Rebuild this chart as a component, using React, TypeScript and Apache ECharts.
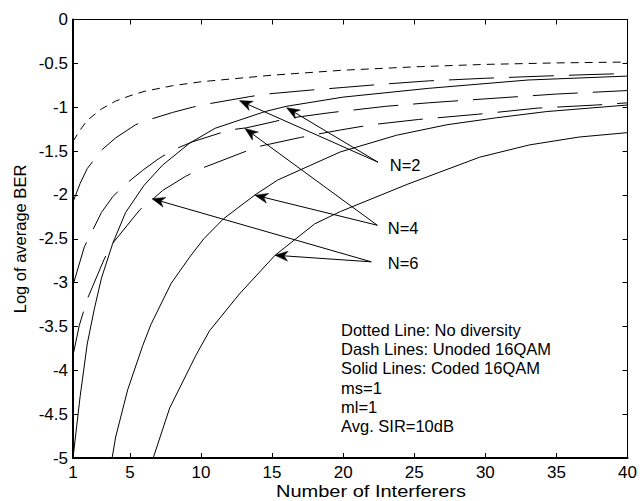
import React, { useEffect, useRef } from "react";
import * as echarts from "echarts";

// ---- axis ticks ----
const X_TICK_LABELS = [1, 5, 10, 15, 20, 25, 30, 35, 40];
const X_INNER_TICKS = [5, 10, 15, 20, 25, 30, 35];

// ---- Dotted: no diversity ----
const NODIV_X = [1, 1.5, 2, 3, 4, 5, 6, 8, 10, 15, 20, 25, 30, 35, 40];
const NODIV_Y = [-1.39, -1.26, -1.15, -1.02, -0.93, -0.87, -0.82, -0.755, -0.71, -0.635, -0.578, -0.54, -0.512, -0.495, -0.485];

// ---- Dash lines: uncoded 16QAM ----
const UNC2_X = [1, 1.5, 2, 3, 4, 5.4, 6.4, 8, 9.4, 10.4, 13.4, 14.6, 17.7, 20, 23, 26, 30, 35, 40];
const UNC2_Y = [-2.08, -1.87, -1.7, -1.49, -1.35, -1.2, -1.14, -1.06, -1.0, -0.965, -0.88, -0.85, -0.805, -0.775, -0.735, -0.7, -0.67, -0.64, -0.615];

const UNC4_X = [1, 1.8, 2.3, 3, 3.8, 4.6, 5.9, 7, 8, 9.4, 12, 13.2, 15, 16, 19.2, 23, 26, 30, 35, 40];
const UNC4_Y = [-3.03, -2.59, -2.43, -2.2, -2.02, -1.89, -1.72, -1.59, -1.49, -1.395, -1.26, -1.235, -1.17, -1.13, -1.06, -0.99, -0.95, -0.905, -0.85, -0.81];

const UNC6_X = [1, 1.44, 2, 3.2, 3.8, 5.7, 6.6, 7.3, 8.9, 10, 14, 17, 18.1, 19.8, 22, 25.3, 29.5, 33.7, 37.8, 40];
const UNC6_Y = [-3.83, -3.49, -3.19, -2.73, -2.55, -2.17, -2.05, -1.95, -1.79, -1.7, -1.45, -1.345, -1.31, -1.26, -1.2, -1.14, -1.08, -1.01, -0.975, -0.95];

// ---- Solid lines: coded 16QAM ----
const COD2_X = [1, 1.5, 2, 2.5, 3, 3.8, 4.7, 6, 7.3, 9.2, 11, 14.5, 16, 20, 26, 33, 40];
const COD2_Y = [-5, -4.3, -3.7, -3.3, -2.95, -2.55, -2.2, -1.89, -1.66, -1.41, -1.24, -1.05, -0.99, -0.885, -0.785, -0.69, -0.645];

const COD4_X = [3.75, 4, 4.85, 5.9, 6.5, 7.9, 9.2, 10.2, 11.6, 13.8, 15.4, 19.8, 23.75, 27.3, 30.8, 34.3, 40];
const COD4_Y = [-5, -4.76, -4.22, -3.72, -3.47, -3.01, -2.71, -2.5, -2.27, -2.0, -1.83, -1.51, -1.32, -1.2, -1.12, -1.05, -0.975];

const COD6_X = [6.64, 7.8, 9.64, 10.6, 12.7, 15.2, 18, 19.8, 24.5, 26.8, 29.6, 33.1, 36.6, 40];
const COD6_Y = [-5, -4.43, -3.83, -3.55, -3.13, -2.69, -2.33, -2.19, -1.88, -1.74, -1.57, -1.43, -1.34, -1.29];

// ---- texts ----
const NOTE_LINES = [
  "Dotted Line: No diversity",
  "Dash Lines: Unoded 16QAM",
  "Solid Lines: Coded 16QAM",
  "ms=1",
  "ml=1",
  "Avg. SIR=10dB",
];
const X_NAME = "Number of Interferers";
const Y_NAME = "Log of average BER";

// arrow annotations (data coordinates: tail -> tip)
const ARROWS = [
  { label: "N=2", labelAt: [23.28, -1.66], tail: [22.45, -1.627], tips: [[12.7, -0.925], [16.02, -1.005]] },
  { label: "N=4", labelAt: [23.14, -2.374], tail: [22.4, -2.346], tips: [[13.09, -1.242], [13.79, -2.003]] },
  { label: "N=6", labelAt: [23.14, -2.78], tail: [21.98, -2.763], tips: [[6.55, -2.043], [15.2, -2.688]] },
];

const FONT = '"Liberation Sans", Arial, Helvetica, sans-serif';

export default function App() {
  const ref = useRef<HTMLDivElement>(null);

  useEffect(() => {
    const chart = echarts.init(ref.current!, null, { renderer: "svg" });
    const zip = (xs: number[], ys: number[]) => xs.map((x, i) => [x, ys[i]]);
    const mk = (name: string, xs: number[], ys: number[], type: any) => ({
      type: "line",
      name,
      data: zip(xs, ys),
      symbol: "none",
      smooth: false,
      silent: true,
      z: 3,
      lineStyle: { color: "#000", width: 1, type },
    });
    const DOT = [8, 6];
    const DASH = [45, 15];

    const tickStyle = { color: "#000", width: 1 };

    chart.setOption({
      animation: false,
      grid: {
        left: 73,
        right: 12,
        top: 19.5,
        bottom: 43,
        show: true,
        borderColor: "#000",
        borderWidth: 1,
      },
      xAxis: [
        {
          type: "value",
          min: 1,
          max: 40,
          axisLine: { show: true, onZero: false, lineStyle: { color: "#000", width: 2 } },
          axisTick: { show: true, inside: true, length: 5, customValues: X_INNER_TICKS, lineStyle: tickStyle },
          axisLabel: { customValues: X_TICK_LABELS, color: "#000", fontSize: 17, fontFamily: FONT, margin: 6 },
          splitLine: { show: false },
        },
        {
          type: "value",
          position: "top",
          min: 1,
          max: 40,
          axisLine: { show: true, onZero: false, lineStyle: { color: "#000", width: 1 } },
          axisTick: { show: true, inside: true, length: 5, customValues: X_INNER_TICKS, lineStyle: tickStyle },
          axisLabel: { show: false },
          splitLine: { show: false },
        },
      ],
      yAxis: [
        {
          type: "value",
          min: -5,
          max: 0,
          interval: 0.5,
          axisLine: { show: true, onZero: false, lineStyle: { color: "#000", width: 2 } },
          axisTick: { show: true, inside: true, length: 5, lineStyle: tickStyle },
          axisLabel: { color: "#000", fontSize: 17, fontFamily: FONT, margin: 5 },
          splitLine: { show: false },
        },
        {
          type: "value",
          position: "right",
          min: -5,
          max: 0,
          interval: 0.5,
          axisLine: { show: true, onZero: false, lineStyle: { color: "#000", width: 1 } },
          axisTick: { show: true, inside: true, length: 5, lineStyle: tickStyle },
          axisLabel: { show: false },
          splitLine: { show: false },
        },
      ],
      series: [
        mk("No diversity", NODIV_X, NODIV_Y, DOT),
        mk("Uncoded N=2", UNC2_X, UNC2_Y, DASH),
        mk("Uncoded N=4", UNC4_X, UNC4_Y, DASH),
        mk("Uncoded N=6", UNC6_X, UNC6_Y, DASH),
        mk("Coded N=2", COD2_X, COD2_Y, "solid"),
        mk("Coded N=4", COD4_X, COD4_Y, "solid"),
        mk("Coded N=6", COD6_X, COD6_Y, "solid"),
      ],
    });

    const toPx = (p: number[]) => chart.convertToPixel({ xAxisIndex: 0, yAxisIndex: 0 }, p) as number[];
    const graphics: any[] = [];

    const L = 13;
    const W = 5;
    ARROWS.forEach((a) => {
      const t = toPx(a.tail);
      a.tips.forEach((tipD) => {
        const p = toPx(tipD);
        const dx = p[0] - t[0];
        const dy = p[1] - t[1];
        const len = Math.hypot(dx, dy);
        const ux = dx / len;
        const uy = dy / len;
        const nx = -uy;
        const ny = ux;
        const bx = p[0] - ux * L;
        const by = p[1] - uy * L;
        const mx = p[0] - ux * L * 0.7;
        const my = p[1] - uy * L * 0.7;
        graphics.push({
          type: "line",
          silent: true,
          z: 10,
          shape: { x1: t[0], y1: t[1], x2: mx, y2: my },
          style: { stroke: "#000", lineWidth: 1 },
        });
        graphics.push({
          type: "polygon",
          silent: true,
          z: 10,
          shape: {
            points: [
              [p[0], p[1]],
              [bx + nx * W, by + ny * W],
              [mx, my],
              [bx - nx * W, by - ny * W],
            ],
          },
          style: { fill: "#000", stroke: "#000", lineWidth: 0.5 },
        });
      });
      const lp = toPx(a.labelAt);
      graphics.push({
        type: "text",
        silent: true,
        z: 10,
        x: lp[0],
        y: lp[1],
        style: { text: a.label, font: `16.5px ${FONT}`, fill: "#000", textAlign: "left", textVerticalAlign: "middle" },
      });
    });

    graphics.push({
      type: "text",
      silent: true,
      z: 10,
      x: 341,
      y: 320.4,
      style: {
        text: NOTE_LINES.join("\n"),
        font: `16.5px ${FONT}`,
        lineHeight: 19.2,
        fill: "#000",
        textAlign: "left",
        textVerticalAlign: "top",
      },
    });

    graphics.push({
      type: "text",
      silent: true,
      z: 10,
      x: 371,
      y: 492,
      scaleX: 1.25,
      style: { text: X_NAME, font: `16px ${FONT}`, fill: "#000", textAlign: "center", textVerticalAlign: "middle" },
    });
    graphics.push({
      type: "text",
      silent: true,
      z: 10,
      x: 20,
      y: 239,
      rotation: Math.PI / 2,
      style: { text: Y_NAME, font: `16.5px ${FONT}`, fill: "#000", textAlign: "center", textVerticalAlign: "middle" },
    });

    chart.setOption({ graphic: graphics });

    return () => chart.dispose();
  }, []);

  return (
    <div
      ref={ref}
      style={{ position: "fixed", left: 0, top: 0, width: 640, height: 501, background: "#fff" }}
    />
  );
}
